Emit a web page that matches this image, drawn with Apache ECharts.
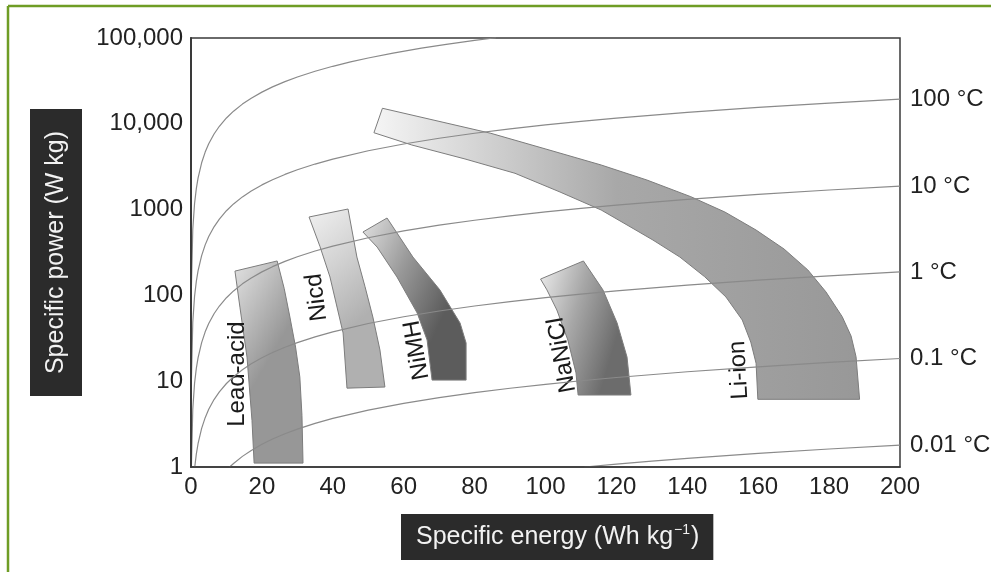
<!DOCTYPE html>
<html lang="en">
<head>
<meta charset="utf-8">
<title>Ragone plot</title>
<script src="https://cdn.jsdelivr.net/npm/echarts@6/dist/echarts.min.js"></script>
<style>
  html, body { margin:0; padding:0; background:#fff; }
  #chart { width:991px; height:572px; }
</style>
</head>
<body>
<div id="chart"></div>
<script>
// axis tick labels (log axis, one per decade)
var yTickLabels = ['1', '10', '100', '1000', '10,000', '100,000'];

// C-rate lines, [specific energy, specific power]
var rateNames = ['', '100 °C', '10 °C', '1 °C', '0.1 °C', '0.01 °C'];
var rateTop = [[0.001,1.2],[0.01,11.7],[0.1,117],[0.5,585],[1,1170],[1.5,1755],[2,2340],[3,3510],[4,4680],[5,5850],[6.5,7605],[8,9360],[10,11700],[12,14040],[14.5,16965],[17,19890],[20,23400],[23,26910],[26.5,31000],[30,35100],[35,40950],[40,46800],[45,52650],[50,58500],[57,66700],[65,76050],[72,84240],[80,93600],[86,100620]];
var rate100 = [[0.01,1],[0.1,9.7],[0.5,48.5],[1,97],[1.5,145.5],[2,194],[3,291],[4,388],[5,485],[6.5,630],[8,776],[10,970],[12,1164],[14.5,1406],[17,1649],[20,1940],[23,2231],[26.5,2570],[30,2910],[35,3395],[40,3880],[50,4850],[60,5820],[70,6790],[80,7760],[90,8730],[100,9700],[110,10670],[120,11640],[140,13580],[160,15520],[180,17460],[200,19400]];
var rate10 = [[0.11,1],[0.5,4.7],[1,9.4],[1.5,14.1],[2,18.8],[3,28.2],[4,37.6],[5,47],[6.5,61.1],[8,75.2],[10,94],[12,112.8],[14.5,136.3],[17,159.8],[20,188],[23,216.2],[26.5,249],[30,282],[35,329],[40,376],[50,470],[60,564],[70,658],[80,752],[90,846],[100,940],[110,1034],[120,1128],[140,1316],[160,1504],[180,1692],[200,1880]];
var rate1 = [[1.06,1],[1.5,1.41],[2,1.88],[3,2.82],[4,3.76],[5,4.7],[6.5,6.11],[8,7.52],[10,9.4],[12,11.28],[14.5,13.63],[17,15.98],[20,18.8],[23,21.62],[26.5,24.9],[30,28.2],[35,32.9],[40,37.6],[50,47],[60,56.4],[70,65.8],[80,75.2],[90,84.6],[100,94],[110,103.4],[120,112.8],[140,131.6],[160,150.4],[180,169.2],[200,188]];
var rate01 = [[10.9,1],[12,1.1],[14.5,1.33],[17,1.56],[20,1.84],[23,2.12],[26.5,2.44],[30,2.76],[35,3.22],[40,3.68],[50,4.6],[60,5.52],[70,6.44],[80,7.36],[90,8.28],[100,9.2],[110,10.12],[120,11.04],[140,12.88],[160,14.72],[180,16.56],[200,18.4]];
var rate001 = [[111,1],[120,1.08],[130,1.17],[140,1.26],[160,1.44],[180,1.62],[200,1.8]];

// battery regions, outline as [specific energy, specific power]
var regionNames = ['Lead-acid', 'Nicd', 'NiMH', 'NaNiCl', 'Li-ion'];
var leadAcid = [[12.4,192],[24.3,252],[26.3,120],[27.9,56],[29.5,25],[30.7,11.2],[31.3,4],[31.6,1.11],[17.8,1.11],[17.2,3.5],[15.8,19.1],[13.8,73]];
var nicd = [[33.3,820],[44.3,1016],[46.8,280],[49.1,126],[51.3,56],[53.3,23.1],[54.7,8.55],[44.0,8.3],[42.9,36.5],[39.2,164],[36.4,370]];
var nimh = [[48.5,548],[55.3,798],[62.6,280],[70.2,116],[75.9,47.7],[77.6,27.9],[77.6,10.3],[68.0,10.3],[66.6,30.2],[63.8,62.4],[58.1,164],[52.5,366]];
var nanicl = [[98.6,155],[110.7,252],[116.2,116],[120.2,47.7],[123.0,19.1],[124.1,6.9],[109.2,6.9],[108.6,12.5],[106.3,30.2],[103.2,67.6],[100.4,116]];
var liIon = [[51.6,7870],[54.0,15170],[84.6,7745],[100.1,5080],[115.7,3310],[128.6,2213],[141.0,1413],[150.6,937],[159.4,578],[167.3,347],[174.0,198],[179.1,110],[183.7,56.5],[186.2,33.6],[187.6,19.3],[188.6,6.15],
             [159.9,6.15],[159.4,16.2],[157.9,28.6],[155.5,51.7],[150.9,95.8],[144.9,165],[137.9,280],[130.3,442],[123.0,662],[115.7,989],[104.1,1603],[91.4,2650],[77.3,3890],[62.3,5660]];

// where each region label sits, and its tilt (degrees)
var labelAt = [[13,12.1],[35.5,95],[63.7,23.1],[104.7,20.2],[154.6,13.5]];
var labelTilt = [90, 97, 100, 100, 93];

var FONT = 'Liberation Sans, Arial, sans-serif';
var regionOutlines = [leadAcid, nicd, nimh, nanicl, liIon];
var regionFills = [
  {dir:[0,0,1,0.2], stops:['#e2e2e2','#bdbdbd','#979797']},
  {dir:[0,0,1,0.5], stops:['#f1f1f1','#d2d2d2','#b0b0b0']},
  {dir:[0,0,1,0.3], stops:['#e2e2e2','#999999','#5c5c5c']},
  {dir:[0,0,1,0.2], stops:['#efefef','#a8a8a8','#6c6c6c']},
  {dir:[0,0,1,0], stops:['#f5f5f5','#a8a8a8','#989898']}
];

var chart = echarts.init(document.getElementById('chart'));

function rateSeries(name, pts){
  return {
    type:'line', name:name, data:pts, showSymbol:false, silent:true, z:5,
    lineStyle:{color:'#8a8a8a', width:1.2},
    endLabel:{show: name !== '', formatter: name, distance:10, color:'#222', fontSize:24, fontFamily:FONT}
  };
}

var series = [];
regionOutlines.forEach(function(pts, i){
  series.push({
    type:'custom', name:regionNames[i], silent:true, z:2,
    data:[[i]],
    renderItem:function(params, api){
      var poly = pts.map(function(p){ return api.coord(p); });
      var f = regionFills[i];
      var c = api.coord(labelAt[i]);
      return {
        type:'group',
        children:[
          {type:'polygon', shape:{points:poly},
           style:{fill:new echarts.graphic.LinearGradient(f.dir[0],f.dir[1],f.dir[2],f.dir[3],[
             {offset:0,color:f.stops[0]},{offset:0.5,color:f.stops[1]},{offset:1,color:f.stops[2]}]),
             stroke:'#7c7c7c', lineWidth:1}},
          {type:'text', x:c[0], y:c[1], rotation:labelTilt[i]*Math.PI/180, z2:10,
           style:{text:regionNames[i], fill:'#1a1a1a', fontSize:24, fontFamily:FONT, align:'center', verticalAlign:'middle'}}
        ]
      };
    }
  });
});
[rateTop, rate100, rate10, rate1, rate01, rate001].forEach(function(pts, i){
  series.push(rateSeries(rateNames[i], pts));
});

var option = {
  animation:false,
  grid:{left:191, right:91, top:38, bottom:105, show:true, borderColor:'#3a3a3a', borderWidth:1.5},
  xAxis:{
    type:'value', min:0, max:200, interval:20, z:8,
    axisLine:{lineStyle:{color:'#3a3a3a', width:1.5}}, axisTick:{show:false}, splitLine:{show:false},
    axisLabel:{color:'#222', fontSize:24, fontFamily:FONT, margin:8}
  },
  yAxis:{
    type:'log', logBase:10, min:1, max:100000, z:8,
    axisLine:{lineStyle:{color:'#3a3a3a', width:2}}, axisTick:{show:false}, splitLine:{show:false},
    axisLabel:{color:'#222', fontSize:24, fontFamily:FONT, margin:8,
      formatter:function(v){ return yTickLabels[Math.round(Math.log10(v))]; }},
    name:'Specific power (W kg)', nameLocation:'middle', nameRotate:90, nameGap:109,
    nameTextStyle:{color:'#f2f2f2', backgroundColor:'#2b2b2b', fontSize:25, fontFamily:FONT, lineHeight:28, padding:[12,22,12,22]}
  },
  graphic:[
    {type:'line', shape:{x1:8, y1:6, x2:991, y2:6}, style:{stroke:'#6f9d25', lineWidth:2.5}},
    {type:'line', shape:{x1:8, y1:6, x2:8, y2:572}, style:{stroke:'#6f9d25', lineWidth:2.5}},
    // x axis title box sits a little right of the axis centre in the original
    {type:'text', left:401, top:514, z:10,
     style:{text:'{a|Specific energy (Wh kg}{s|−1}{a|)}', backgroundColor:'#2b2b2b', padding:[9,14,9,15],
       rich:{a:{fill:'#f2f2f2', fontSize:25, fontFamily:FONT, lineHeight:28},
             s:{fill:'#f2f2f2', fontSize:14, fontFamily:FONT, verticalAlign:'top', lineHeight:28, padding:[0,1,10,1]}}}}
  ],
  series:series
};
chart.setOption(option);
</script>
</body>
</html>
